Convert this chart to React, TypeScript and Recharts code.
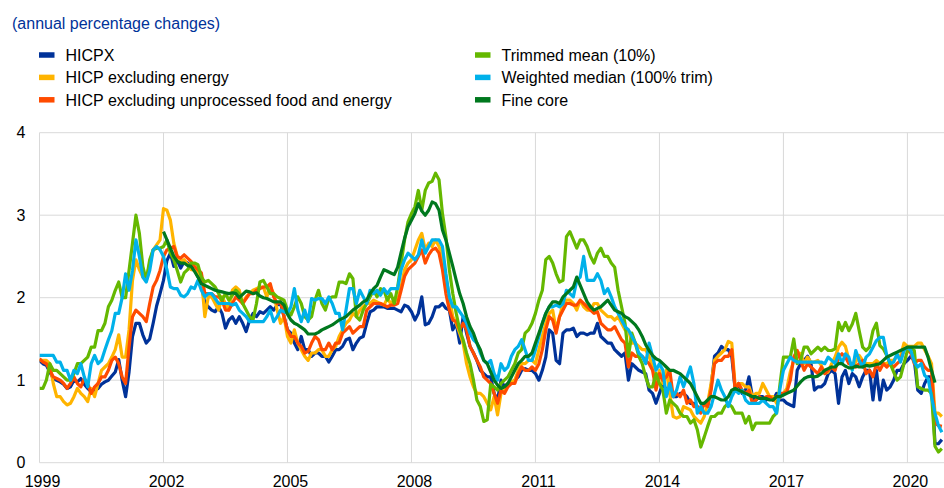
import React from "react";
import { LineChart, Line, XAxis, YAxis, CartesianGrid } from "recharts";

const FONT = '"Liberation Sans", Arial, Helvetica, sans-serif';
const FONT_SIZE = 16;

const title = "(annual percentage changes)";
const startYear = 1999;
const xTickLabels = ["1999", "2002", "2005", "2008", "2011", "2014", "2017", "2020"];
const yTickValues = [0, 1, 2, 3, 4];

// Monthly values from Jan 1999
const hicpx = [
  1.24, 1.2, 1.18, 1.1, 1.02, 1.0, 0.98, 0.95, 0.9, 0.92, 1.0, 0.98,
  1.02, 0.95, 0.9, 0.86, 0.88, 0.9, 0.95, 0.98, 1.0, 1.05, 1.1, 1.25,
  1.0, 0.8, 1.1, 1.53, 1.69, 1.69, 1.55, 1.45, 1.5, 1.69, 1.9, 2.05,
  2.21, 2.45, 2.54, 2.38, 2.45, 2.36, 2.44, 2.42, 2.38, 2.34, 2.26, 2.17,
  1.93, 1.89, 1.85, 1.83, 1.89, 1.81, 1.63, 1.73, 1.77, 1.69, 1.77, 1.69,
  1.59, 1.73, 1.81, 1.77, 1.83, 1.81, 1.85, 1.89, 1.85, 1.91, 1.93, 1.77,
  1.61, 1.57, 1.45, 1.37, 1.53, 1.37, 1.37, 1.29, 1.33, 1.33, 1.29, 1.29,
  1.22, 1.29, 1.37, 1.37, 1.41, 1.49, 1.51, 1.37, 1.45, 1.51, 1.53, 1.69,
  1.83, 1.85, 1.89, 1.89, 1.89, 1.87, 1.87, 1.87, 1.85, 1.83, 1.91, 1.89,
  1.83, 1.73, 1.81, 2.01, 1.67, 1.69, 1.77, 1.89, 1.89, 1.93, 1.87, 1.85,
  1.61, 1.69, 1.45, 1.77, 1.57, 1.41, 1.33, 1.24, 1.12, 1.08, 1.04, 1.04,
  0.84, 0.76, 1.0, 0.92, 0.96, 0.96, 1.0, 1.04, 1.12, 1.14, 1.12, 1.12,
  1.08, 1.0, 1.12, 1.28, 1.61, 1.57, 1.24, 1.2, 1.57, 1.61, 1.61, 1.63,
  1.53, 1.57, 1.57, 1.55, 1.57, 1.57, 1.69, 1.53, 1.49, 1.45, 1.45, 1.37,
  1.33, 1.29, 1.33, 1.0, 1.2, 1.16, 1.12, 1.1, 1.08, 0.88, 0.84, 0.72,
  0.84, 0.96, 0.88, 0.84, 0.8, 0.8, 0.84, 0.84, 0.8, 0.72, 0.72, 0.68,
  0.64, 0.72, 0.68, 0.92, 1.29, 1.33, 1.41, 1.37, 1.37, 1.29, 0.88, 0.96,
  0.84, 0.88, 1.04, 0.8, 0.76, 0.8, 0.8, 0.76, 0.8, 0.76, 0.84, 0.76,
  0.76, 0.72, 0.7, 0.68, 1.12, 1.2, 1.24, 1.29, 1.2, 0.88, 0.92, 0.92,
  0.96, 1.08, 1.12, 1.08, 0.72, 1.04, 1.12, 0.96, 1.08, 1.04, 0.92, 1.04,
  1.12, 1.12, 0.76, 1.12, 0.76, 1.0, 0.88, 0.92, 1.0, 1.12, 1.12, 1.2,
  1.24, 1.29, 1.24, 0.88, 0.84, 0.96, 1.04, 1.04, 0.23, 0.23, 0.28,
];

const exEnergy = [
  1.24, 1.24, 1.24, 1.2, 0.96, 0.8, 0.8, 0.74, 0.7, 0.72, 0.8, 0.9,
  0.84, 0.8, 0.74, 0.9, 0.8, 0.96, 1.12, 1.16, 1.2, 1.28, 1.37, 1.55,
  1.28, 1.28, 1.61, 2.21, 2.46, 2.34, 2.25, 2.21, 2.42, 2.58, 2.64, 2.7,
  3.08, 3.06, 2.94, 2.66, 2.5, 2.44, 2.46, 2.4, 2.34, 2.34, 2.3, 2.25,
  1.77, 2.01, 2.01, 1.93, 1.85, 2.01, 1.93, 1.85, 2.09, 2.13, 2.09, 1.93,
  2.01, 2.05, 2.09, 2.11, 2.13, 2.13, 2.01, 2.13, 2.05, 1.85, 1.69, 1.77,
  1.53, 1.45, 1.61, 1.45, 1.37, 1.29, 1.24, 1.33, 1.33, 1.37, 1.37, 1.29,
  1.29, 1.37, 1.41, 1.53, 1.61, 1.69, 1.73, 1.81, 1.77, 1.85, 1.89, 1.93,
  1.93, 1.97, 1.95, 1.93, 1.91, 1.99, 1.93, 1.97, 1.97, 2.13, 2.34, 2.42,
  2.46, 2.58, 2.7, 2.78, 2.58, 2.66, 2.62, 2.7, 2.62, 2.5, 2.25, 2.01,
  1.77, 1.69, 1.57, 1.45, 1.2, 1.04, 0.92, 0.84, 0.84, 0.8, 0.72, 0.64,
  0.8, 0.58, 0.84, 0.88, 0.96, 0.98, 1.0, 1.12, 1.2, 1.2, 1.24, 1.24,
  1.2, 1.37, 1.53, 1.69, 1.81, 1.85, 1.61, 1.77, 1.93, 1.97, 1.97, 1.93,
  1.85, 1.97, 1.89, 1.85, 1.85, 1.93, 1.93, 1.85, 1.81, 1.77, 1.77, 1.73,
  1.77, 1.69, 1.61, 1.61, 1.45, 1.45, 1.41, 1.37, 1.37, 1.29, 1.16, 0.96,
  1.12, 0.96, 1.12, 0.84, 0.56, 0.54, 0.56, 0.68, 0.66, 0.64, 0.56, 0.52,
  0.48, 0.56, 0.72, 0.96, 1.24, 1.29, 1.33, 1.37, 1.47, 1.45, 0.92, 0.96,
  0.96, 0.92, 0.92, 0.8, 0.84, 0.84, 0.96, 0.88, 0.8, 0.8, 0.72, 0.8,
  0.84, 0.9, 1.1, 1.24, 1.34, 1.32, 1.2, 1.28, 1.22, 1.22, 1.24, 1.18,
  1.08, 1.1, 1.2, 1.28, 1.4, 1.46, 1.41, 1.25, 1.14, 1.22, 1.3, 1.24,
  1.2, 1.2, 1.2, 1.24, 1.2, 1.2, 1.2, 1.24, 1.24, 1.29, 1.29, 1.45,
  1.41, 1.41, 1.41, 1.45, 1.45, 1.37, 1.29, 1.2, 0.6, 0.6, 0.56,
];

const exUnprocFoodEnergy = [
  1.26, 1.22, 1.2, 1.12, 1.04, 1.02, 1.0, 0.96, 0.9, 0.96, 1.04, 0.96,
  0.92, 1.02, 0.96, 0.84, 0.92, 0.96, 1.04, 1.04, 1.12, 1.24, 1.28, 1.2,
  1.04, 0.96, 1.4, 1.77, 1.85, 1.81, 1.77, 1.71, 1.93, 2.13, 2.21, 2.33,
  2.5, 2.58, 2.6, 2.62, 2.5, 2.48, 2.52, 2.48, 2.44, 2.38, 2.34, 2.3,
  2.05, 2.05, 2.05, 2.01, 2.01, 1.97, 1.85, 1.85, 1.93, 2.01, 1.97, 1.93,
  1.99, 2.05, 2.05, 2.09, 2.11, 2.13, 2.13, 2.17, 2.01, 1.93, 1.95, 1.77,
  1.61, 1.53, 1.53, 1.45, 1.41, 1.33, 1.35, 1.45, 1.53, 1.49, 1.37, 1.37,
  1.45, 1.37, 1.45, 1.45, 1.57, 1.61, 1.65, 1.57, 1.61, 1.65, 1.65, 1.85,
  1.89, 1.93, 1.93, 1.93, 1.91, 1.89, 1.91, 1.91, 1.93, 2.09, 2.26, 2.34,
  2.38, 2.42, 2.5, 2.58, 2.42, 2.52, 2.58, 2.6, 2.54, 2.34, 2.05, 1.85,
  1.73, 1.71, 1.61, 1.69, 1.61, 1.41, 1.33, 1.24, 1.16, 1.04, 1.0, 0.96,
  0.84, 0.72, 0.88, 0.84, 0.92, 0.96, 0.96, 1.08, 1.16, 1.12, 1.12, 1.16,
  1.12, 1.2, 1.37, 1.61, 1.77, 1.73, 1.57, 1.77, 1.85, 1.93, 1.93, 1.91,
  1.91, 1.97, 1.93, 1.89, 1.85, 1.81, 1.83, 1.69, 1.65, 1.61, 1.61, 1.65,
  1.57, 1.49, 1.45, 1.16, 1.33, 1.29, 1.29, 1.29, 1.24, 1.2, 1.12, 0.88,
  1.08, 1.0, 1.04, 1.12, 0.8, 0.84, 0.8, 0.88, 0.72, 0.76, 0.68, 0.68,
  0.6, 0.72, 0.68, 0.88, 1.2, 1.24, 1.24, 1.29, 1.29, 1.37, 0.88, 0.96,
  0.88, 0.84, 0.88, 0.72, 0.76, 0.8, 0.76, 0.8, 0.8, 0.76, 0.8, 0.84,
  0.84, 0.86, 1.0, 1.28, 1.36, 1.24, 1.12, 1.2, 1.16, 1.12, 1.08, 1.16,
  1.08, 1.12, 1.16, 1.12, 1.28, 1.32, 1.28, 1.2, 1.2, 1.16, 1.2, 1.24,
  1.08, 1.12, 1.04, 1.2, 1.12, 1.2, 1.16, 1.2, 1.16, 1.2, 1.24, 1.37,
  1.37, 1.33, 1.2, 1.24, 1.24, 1.16, 1.12, 1.12, 0.48, 0.45, 0.44,
];

const trimmedMean = [
  0.9, 0.9, 1.0, 1.2, 1.12, 1.12, 1.08, 1.04, 1.0, 1.0, 1.08, 1.2,
  1.2, 1.24, 1.28, 1.4, 1.4, 1.6, 1.6, 1.69, 1.89, 1.97, 2.09, 2.19,
  2.0, 2.0, 2.33, 2.66, 3.0, 2.78, 2.38, 2.21, 2.46, 2.58, 2.6, 2.6,
  2.62, 2.7, 2.54, 2.46, 2.33, 2.19, 2.3, 2.34, 2.42, 2.42, 2.4, 2.25,
  2.19, 2.21, 2.17, 2.13, 2.05, 1.97, 2.05, 1.97, 2.03, 2.09, 2.05, 1.93,
  1.85, 1.77, 1.73, 1.93, 2.19, 2.21, 2.13, 2.05, 2.05, 2.01, 1.99, 1.97,
  1.85, 1.79, 1.89, 2.01, 1.93, 1.77, 1.73, 1.77, 1.97, 2.09, 1.93, 1.85,
  1.99, 2.01, 2.01, 2.19, 2.19, 2.17, 2.29, 2.23, 1.77, 1.73, 1.85, 1.93,
  2.01, 2.09, 2.01, 2.11, 2.09, 1.97, 2.05, 1.93, 2.13, 2.42, 2.7, 2.92,
  3.02, 3.1, 3.3, 3.06, 3.3, 3.39, 3.41, 3.51, 3.43, 3.02, 2.74, 2.34,
  2.05, 1.81, 1.61, 1.49, 1.33, 1.2, 1.0, 0.76, 0.68, 0.5, 0.52, 0.95,
  0.92, 0.88, 0.96, 1.0, 1.04, 1.12, 1.2, 1.33, 1.37, 1.57, 1.61, 1.69,
  1.81, 1.97, 2.09, 2.46, 2.5, 2.42, 2.29, 2.19, 2.21, 2.74, 2.8, 2.7,
  2.6, 2.7, 2.7, 2.62, 2.5, 2.42, 2.54, 2.6, 2.5, 2.5, 2.42, 2.37,
  2.09, 1.89, 1.69, 1.29, 1.57, 1.45, 1.29, 1.2, 1.04, 0.92, 0.92, 1.08,
  0.96, 0.88, 0.6, 0.76, 0.72, 0.68, 0.6, 0.56, 0.56, 0.48, 0.52, 0.4,
  0.19, 0.31, 0.44, 0.56, 0.56, 0.6, 0.6, 0.68, 0.72, 0.68, 0.6, 0.6,
  0.6, 0.48, 0.56, 0.4, 0.48, 0.48, 0.48, 0.48, 0.48, 0.56, 0.6, 0.95,
  1.28, 1.28, 1.28, 1.5, 1.2, 1.24, 1.4, 1.4, 1.32, 1.36, 1.4, 1.36,
  1.4, 1.36, 1.36, 1.38, 1.7, 1.6, 1.7, 1.6, 1.68, 1.81, 1.6, 1.4,
  1.36, 1.4, 1.6, 1.69, 1.42, 1.38, 1.3, 1.2, 1.1, 1.0, 1.04, 1.2,
  1.36, 1.38, 1.36, 0.92, 0.9, 0.88, 0.88, 0.84, 0.2, 0.13, 0.17,
];

const weightedMedian = [
  1.3, 1.3, 1.3, 1.3, 1.3, 1.22, 1.22, 1.12, 1.12, 1.0, 1.12, 1.08,
  1.2, 1.04, 0.92, 1.2, 1.3, 1.2, 1.24, 1.37, 1.49, 1.6, 1.81, 1.81,
  2.0, 2.29, 2.09, 2.33, 2.7, 2.5, 2.25, 2.19, 2.33, 2.58, 2.62, 2.58,
  2.5, 2.34, 2.13, 2.11, 2.11, 2.03, 2.01, 2.05, 2.13, 2.11, 2.21, 2.09,
  2.01, 2.05, 2.05, 1.99, 1.93, 1.93, 1.93, 1.93, 1.91, 1.93, 1.85, 1.81,
  1.77, 1.71, 1.71, 1.71, 1.71, 1.71, 1.77, 1.85, 1.71, 1.77, 1.85, 1.83,
  1.81, 1.89, 2.11, 1.85, 1.71, 1.85, 1.71, 1.99, 1.97, 1.99, 1.99, 1.93,
  2.01, 1.93, 1.81, 1.81, 1.61, 1.85, 2.11, 2.11, 1.93, 2.09, 2.01, 1.93,
  2.09, 2.05, 2.09, 2.03, 2.11, 2.05, 2.11, 2.11, 2.11, 2.34, 2.46, 2.54,
  2.5, 2.46, 2.52, 2.7, 2.54, 2.62, 2.7, 2.7, 2.7, 2.62, 2.29, 2.01,
  1.89, 1.89, 1.83, 1.77, 1.69, 1.57, 1.49, 1.45, 1.33, 1.24, 1.2, 1.24,
  1.08, 1.0, 1.2, 1.12, 1.16, 1.29, 1.37, 1.41, 1.49, 1.37, 1.24, 1.24,
  1.37, 1.53, 1.69, 1.81, 1.89, 1.89, 1.91, 1.89, 1.93, 2.09, 2.05, 2.01,
  2.21, 2.25, 2.5, 2.21, 2.21, 2.21, 2.29, 2.21, 2.05, 2.11, 2.01, 1.89,
  1.81, 1.73, 1.65, 1.61, 1.53, 1.45, 1.33, 1.29, 1.2, 1.45, 1.29, 1.12,
  1.2, 1.12, 0.8, 0.96, 0.8, 0.88, 1.04, 0.92, 1.04, 1.16, 0.96, 0.6,
  0.68, 0.6, 0.6, 0.68, 0.84, 1.0, 0.88, 0.8, 0.68, 0.8, 0.88, 0.84,
  0.88, 0.76, 0.72, 0.72, 0.72, 0.72, 0.76, 0.72, 0.68, 0.68, 0.6, 0.9,
  1.12, 1.2, 1.28, 1.24, 1.22, 1.22, 1.22, 1.22, 1.22, 1.22, 1.22, 1.22,
  1.2, 1.28, 1.24, 1.2, 1.32, 1.2, 1.32, 1.28, 1.12, 1.36, 1.24, 1.16,
  1.28, 1.32, 1.4, 1.48, 1.52, 1.52, 1.3, 1.2, 1.22, 1.32, 1.22, 1.36,
  1.4, 1.36, 1.22, 1.16, 1.2, 1.06, 1.02, 0.8, 0.6, 0.45, 0.37,
];

// Monthly values from Jan 2002
const fineCoreStartYear = 2002;
const fineCore = [
  2.8, 2.7, 2.6, 2.5, 2.44, 2.42, 2.42, 2.39, 2.38, 2.32, 2.25, 2.17,
  2.15, 2.13, 2.11, 2.09, 2.08, 2.07, 2.06, 2.05, 2.06, 2.05, 2.0, 2.04,
  2.08, 2.07, 2.05, 2.06, 2.02, 2.0, 1.99, 1.97, 1.95, 1.95, 1.95, 1.91,
  1.8, 1.73, 1.69, 1.67, 1.64, 1.61, 1.56, 1.56, 1.56, 1.58, 1.61, 1.63,
  1.65, 1.67, 1.7, 1.73, 1.75, 1.77, 1.81, 1.85, 1.88, 1.91, 1.95, 1.97,
  2.05, 2.11, 2.15, 2.25, 2.34, 2.32, 2.3, 2.28, 2.37, 2.55, 2.72, 2.86,
  2.94, 3.02, 3.14, 3.05, 3.0, 3.06, 3.16, 3.14, 3.06, 2.82, 2.7, 2.54,
  2.38, 2.21, 2.05, 1.93, 1.77, 1.65, 1.57, 1.45, 1.37, 1.24, 1.2, 1.1,
  1.0, 0.94, 0.9, 0.92, 0.96, 1.04, 1.12, 1.2, 1.24, 1.29, 1.29, 1.33,
  1.45, 1.57, 1.69, 1.81, 1.89, 1.95, 1.95, 1.93, 2.01, 2.05, 2.09, 2.13,
  2.25, 2.15, 2.05, 1.95, 1.89, 1.85, 1.87, 1.89, 1.93, 1.97, 1.91, 1.85,
  1.83, 1.81, 1.77, 1.75, 1.71, 1.67, 1.61, 1.53, 1.43, 1.36, 1.3, 1.26,
  1.24, 1.2, 1.16, 1.12, 1.12, 1.1, 1.08, 1.04, 1.0, 0.96, 0.88, 0.8,
  0.72, 0.72, 0.76, 0.8, 0.8, 0.78, 0.76, 0.76, 0.8, 0.88, 0.9, 0.88,
  0.86, 0.84, 0.82, 0.8, 0.8, 0.78, 0.78, 0.78, 0.76, 0.76, 0.8, 0.8,
  0.82, 0.84, 0.86, 0.88, 0.93, 0.98, 1.02, 1.04, 1.05, 1.04, 1.05, 1.08,
  1.12, 1.14, 1.16, 1.16, 1.2, 1.2, 1.17, 1.15, 1.15, 1.17, 1.16, 1.16,
  1.18, 1.17, 1.18, 1.19, 1.2, 1.24, 1.28, 1.3, 1.32, 1.34, 1.36, 1.38,
  1.4, 1.4, 1.4, 1.4, 1.4, 1.4, 1.28, 1.12, 0.97,
];

const series = [
  { key: "hicpx", name: "HICPX", color: "#003299", values: hicpx, offset: 0 },
  { key: "exEnergy", name: "HICP excluding energy", color: "#FFB400", values: exEnergy, offset: 0 },
  { key: "exUnproc", name: "HICP excluding unprocessed food and energy", color: "#FF4B00", values: exUnprocFoodEnergy, offset: 0 },
  { key: "tmean", name: "Trimmed mean (10%)", color: "#65B800", values: trimmedMean, offset: 0 },
  { key: "wmedian", name: "Weighted median (100% trim)", color: "#00B1EA", values: weightedMedian, offset: 0 },
  { key: "fineCore", name: "Fine core", color: "#00781E", values: fineCore, offset: (fineCoreStartYear - startYear) * 12 },
];

const monthCount = hicpx.length;
const data = Array.from({ length: monthCount }, (_, i) => {
  const row: Record<string, number | null> = { m: i };
  series.forEach((s) => {
    const j = i - s.offset;
    row[s.key] = j >= 0 && j < s.values.length ? s.values[j] : null;
  });
  return row;
});

const xTicks = xTickLabels.map((l) => (Number(l) - startYear) * 12);
const labelForMonth = (m: number) => String(startYear + Math.round(m / 12));

const XTick = (props: any) => {
  const { x, payload } = props;
  return (
    <text x={x + 3} y={486.5} textAnchor="middle" fontSize={FONT_SIZE} fontFamily={FONT} fill="#000">
      {labelForMonth(payload.value)}
    </text>
  );
};

const YTick = (props: any) => {
  const { y, payload } = props;
  return (
    <text x={25.5} y={y + 5.7} textAnchor="end" fontSize={FONT_SIZE} fontFamily={FONT} fill="#000">
      {payload.value}
    </text>
  );
};

const legendCols = [
  { markerX: 39, textX: 65.5, keys: ["hicpx", "exEnergy", "exUnproc"] },
  { markerX: 475, textX: 501.5, keys: ["tmean", "wmedian", "fineCore"] },
];
const legendRowY = [55, 77.4, 99.8];

export default function App() {
  return (
    <div
      style={{
        position: "absolute",
        left: 0,
        top: 0,
        width: 944,
        height: 488,
        overflow: "hidden",
        background: "#fff",
        fontFamily: FONT,
      }}
    >
      <div style={{ position: "absolute", left: 0, top: 0 }}>
        <LineChart
          width={950}
          height={488}
          data={data}
          margin={{ top: 132.7, right: 4.7, bottom: 0.3, left: 9.5 }}
        >
          <CartesianGrid stroke="#D9D9D9" strokeWidth={1} vertical horizontal />
          <XAxis
            dataKey="m"
            type="number"
            domain={[0, 263]}
            ticks={xTicks}
            interval={0}
            height={25}
            axisLine={false}
            tickLine={false}
            tick={<XTick />}
            allowDataOverflow
          />
          <YAxis
            type="number"
            domain={[0, 4]}
            ticks={yTickValues}
            interval={0}
            width={30}
            axisLine={false}
            tickLine={false}
            tick={<YTick />}
          />
          {series.map((s) => (
            <Line
              key={s.key}
              type="linear"
              dataKey={s.key}
              name={s.name}
              stroke={s.color}
              strokeWidth={3.2}
              strokeLinejoin="round"
              dot={false}
              activeDot={false}
              connectNulls={false}
              isAnimationActive={false}
            />
          ))}
        </LineChart>
      </div>
      <svg
        width={944}
        height={120}
        style={{ position: "absolute", left: 0, top: 0, pointerEvents: "none" }}
      >
        <text x={12} y={29.3} fontSize={FONT_SIZE} fontFamily={FONT} fill="#003299">
          {title}
        </text>
        {legendCols.map((col, ci) =>
          col.keys.map((k, ri) => {
            const s = series.find((q) => q.key === k)!;
            const cy = legendRowY[ri];
            return (
              <g key={`${ci}-${ri}`}>
                <rect x={col.markerX} y={cy - 2.75} width={15.5} height={5.5} fill={s.color} />
                <text x={col.textX} y={cy + 5.8} fontSize={FONT_SIZE} fontFamily={FONT} fill="#000">
                  {s.name}
                </text>
              </g>
            );
          })
        )}
      </svg>
    </div>
  );
}
